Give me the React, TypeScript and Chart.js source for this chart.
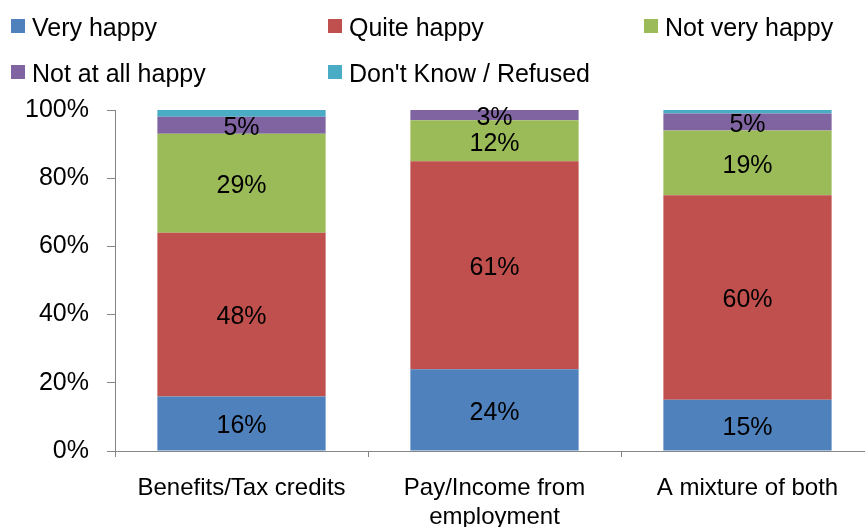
import React, { useEffect, useRef } from "react";
import { Chart, registerables } from "chart.js";

Chart.register(...registerables);

const categories: (string | string[])[] = [
  "Benefits/Tax credits",
  ["Pay/Income from", "employment"],
  "A mixture of both",
];
const seriesNames = ["Very happy", "Quite happy", "Not very happy", "Not at all happy", "Don't Know / Refused"];
const veryHappy = [16, 24, 15];
const quiteHappy = [48, 61, 60];
const notVeryHappy = [29, 12, 19];
const notAtAllHappy = [5, 3, 5];
const dontKnow = [2, 0, 1];
const colors = ["#4F81BD", "#C0504D", "#9BBB59", "#8064A2", "#4BACC6"];
const yTicks = [0, 20, 40, 60, 80, 100];

const FONT = "'Liberation Sans', Arial, sans-serif";

const legendPos = [
  { x: 11, y: 0 },
  { x: 328, y: 0 },
  { x: 644, y: 0 },
  { x: 11, y: 46 },
  { x: 328, y: 46 },
];

const labelPlugin = {
  id: "segLabels",
  afterDatasetsDraw(chart: any) {
    const ctx = chart.ctx;
    ctx.save();
    ctx.font = `25px ${FONT}`;
    ctx.fillStyle = "#000";
    ctx.textAlign = "center";
    ctx.textBaseline = "middle";
    chart.data.datasets.forEach((ds: any, di: number) => {
      if (di > 3) return;
      const meta = chart.getDatasetMeta(di);
      meta.data.forEach((el: any, i: number) => {
        const v = ds.data[i];
        if (!v) return;
        ctx.fillText(`${v}%`, el.x, (el.y + el.base) / 2 + 3);
      });
    });
    ctx.restore();
  },
};

export default function App() {
  const ref = useRef<HTMLCanvasElement>(null);
  useEffect(() => {
    const series = [veryHappy, quiteHappy, notVeryHappy, notAtAllHappy, dontKnow];
    const chart = new Chart(ref.current!, {
      type: "bar",
      data: {
        labels: categories,
        datasets: series.map((d, i) => ({
          label: seriesNames[i],
          data: d,
          backgroundColor: colors[i],
          borderWidth: 0,
          barPercentage: 1,
          categoryPercentage: 0.665,
        })),
      },
      options: {
        responsive: false,
        animation: false,
        layout: { padding: { top: 110, left: 0, right: 0, bottom: 0 } },
        plugins: { legend: { display: false }, tooltip: { enabled: false } },
        scales: {
          x: {
            stacked: true,
            grid: { display: true, drawOnChartArea: false, drawTicks: true, tickLength: 6, color: "#868686", offset: true },
            border: { display: true, color: "#868686", width: 1 },
            ticks: { color: "#000", font: { family: FONT, size: 24 }, padding: 17, maxRotation: 0, autoSkip: false },
            afterFit: (s: any) => { s.height = 76; },
          },
          y: {
            stacked: true,
            min: 0,
            max: 100,
            afterBuildTicks: (s: any) => { s.ticks = yTicks.map((v) => ({ value: v })); },
            grid: { display: true, drawOnChartArea: false, drawTicks: true, tickLength: 8, color: "#868686" },
            border: { display: true, color: "#868686", width: 1 },
            ticks: { color: "#000", font: { family: FONT, size: 25, lineHeight: 1.35 }, padding: 18, callback: (v: any) => `${v}%` },
            afterFit: (s: any) => { s.width = 115; },
          },
        },
      },
      plugins: [labelPlugin],
    });
    return () => chart.destroy();
  }, []);

  return (
    <div style={{ position: "fixed", left: 0, top: 0, width: 865, height: 527, overflow: "hidden", background: "#fff", fontFamily: FONT }}>
      <canvas ref={ref} width={874} height={527} style={{ position: "absolute", left: 0, top: 0, width: 874, height: 527 }} />
      {seriesNames.map((n, i) => (
        <div key={n} style={{ position: "absolute", left: legendPos[i].x, top: legendPos[i].y, height: 46 }}>
          <div style={{ position: "absolute", left: 0, top: 19, width: 14, height: 14, background: colors[i] }} />
          <div style={{ position: "absolute", left: 21, top: 15, fontSize: 25, lineHeight: "25px", whiteSpace: "nowrap", color: "#000" }}>{n}</div>
        </div>
      ))}
    </div>
  );
}
